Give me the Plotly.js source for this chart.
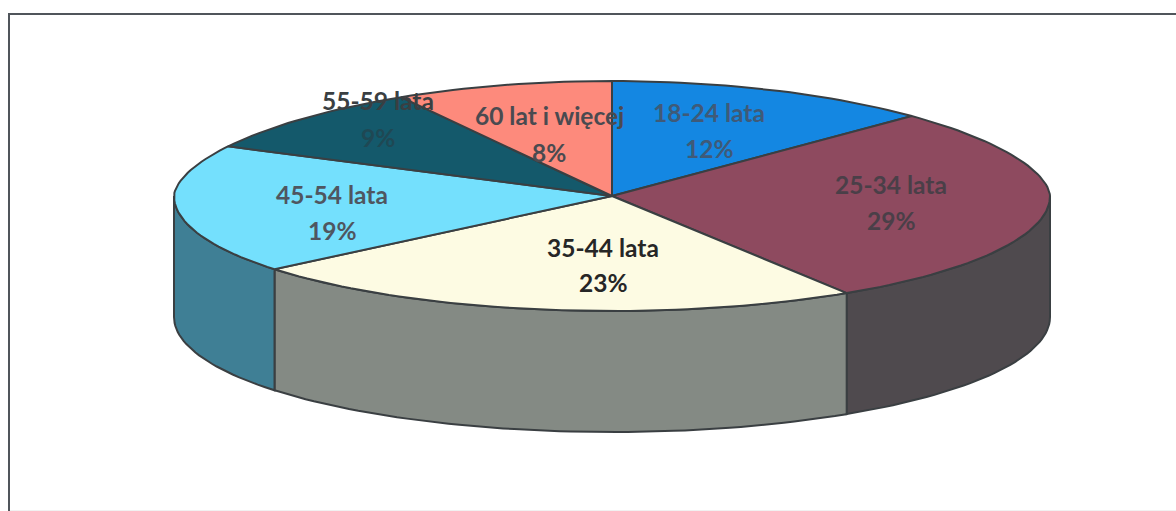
<!DOCTYPE html>
<html><head><meta charset="utf-8">
<script src="https://cdn.plot.ly/plotly-3.0.1.min.js"></script>
<style>html,body{margin:0;padding:0;background:#fff}#chart{width:1176px;height:511px}</style>
</head><body><div id="chart"></div>
<script>
const categories = ['18-24 lata','25-34 lata','35-44 lata','45-54 lata','55-59 lata','60 lat i więcej'];
const shares = [12,29,23,19,9,8];
const topColors = ['#1487e2','#8e4a5f','#fdfbe3','#74e0fd','#14596b','#fd8a7c'];
const wallColors = ['#0d5f9e','#4f4a4e','#848a84','#3f7f95','#0f4452','#b3625a'];
const nameColors = ['#3f5a78','#4a3f48','#262626','#4f5660','#3a3f42','#4a4a50'];
const pctColors = ['#3f5a78','#4a3f48','#262626','#4f5660','#1f4854','#4a4a50'];
const centerX = [709,891,603,332,378,549];
const nameY = [112,184,247,194,100,115];
const pctY = [148,220,282,230,137,152];

const cx=612, cy=196, rx=438, ry=115, depth=121, step=1.5;
const rad=d=>d*Math.PI/180;
const px=a=>cx+rx*Math.sin(rad(a));
// the far half of the disc is flattened a little, as in a perspective view
const py=(a,o)=>{const c=Math.cos(rad(a));
  return cy-(c>0?ry*Math.pow(c,1.15):ry*c)+(o||0);};
const total=shares.reduce((s,v)=>s+v,0);

let traces=[], start=0;
const tops=[];
shares.forEach((v,i)=>{
  const end=start+v/total*360;
  tops.push([start,end,i]);
  start=end;
});
const lineCol='#3a3f42';
tops.forEach(([a0,a1,i])=>{
  const lo=Math.max(a0,90), hi=Math.min(a1,270);
  if(hi<=lo) return;
  const xs=[],ys=[];
  for(let a=lo;a<hi;a+=step){xs.push(px(a));ys.push(py(a));}
  xs.push(px(hi));ys.push(py(hi));
  for(let a=hi;a>lo;a-=step){xs.push(px(a));ys.push(py(a,depth));}
  xs.push(px(lo),px(lo));ys.push(py(lo,depth),py(lo));
  traces.push({type:'scatter',mode:'lines',x:xs,y:ys,fill:'toself',fillcolor:wallColors[i],
    line:{color:lineCol,width:2},hoverinfo:'skip',showlegend:false});
});
tops.forEach(([a0,a1,i])=>{
  const xs=[cx],ys=[cy];
  for(let a=a0;a<a1;a+=step){xs.push(px(a));ys.push(py(a));}
  xs.push(px(a1),cx);ys.push(py(a1),cy);
  traces.push({type:'scatter',mode:'lines',x:xs,y:ys,fill:'toself',fillcolor:topColors[i],
    line:{color:lineCol,width:2},name:categories[i],hoverinfo:'name',showlegend:false});
});
const fontFor=col=>({family:'Lato, "Open Sans", sans-serif',size:24.5,color:col,weight:700});
const annotations=[];
categories.forEach((c,i)=>{
  annotations.push({x:centerX[i],y:nameY[i],xref:'x',yref:'y',showarrow:false,text:c,font:fontFor(nameColors[i])});
  annotations.push({x:centerX[i],y:pctY[i],xref:'x',yref:'y',showarrow:false,text:shares[i]+'%',font:fontFor(pctColors[i])});
});
const layout={
  width:1176,height:511,margin:{l:0,r:0,t:0,b:0},paper_bgcolor:'#fff',plot_bgcolor:'#fff',showlegend:false,
  xaxis:{range:[0,1176],visible:false,fixedrange:true},
  yaxis:{range:[511,0],visible:false,fixedrange:true},
  annotations,
  shapes:[
    {type:'line',xref:'x',yref:'y',x0:8,x1:1176,y0:14,y1:14,line:{color:'#50555b',width:2}},
    {type:'line',xref:'x',yref:'y',x0:9,x1:9,y0:14,y1:511,line:{color:'#50555b',width:2}},
    {type:'line',xref:'x',yref:'y',x0:10,x1:1176,y0:510.5,y1:510.5,line:{color:'#f1f1f1',width:1}}
  ]
};
Plotly.newPlot('chart',traces,layout,{displayModeBar:false,staticPlot:true});
</script></body></html>
